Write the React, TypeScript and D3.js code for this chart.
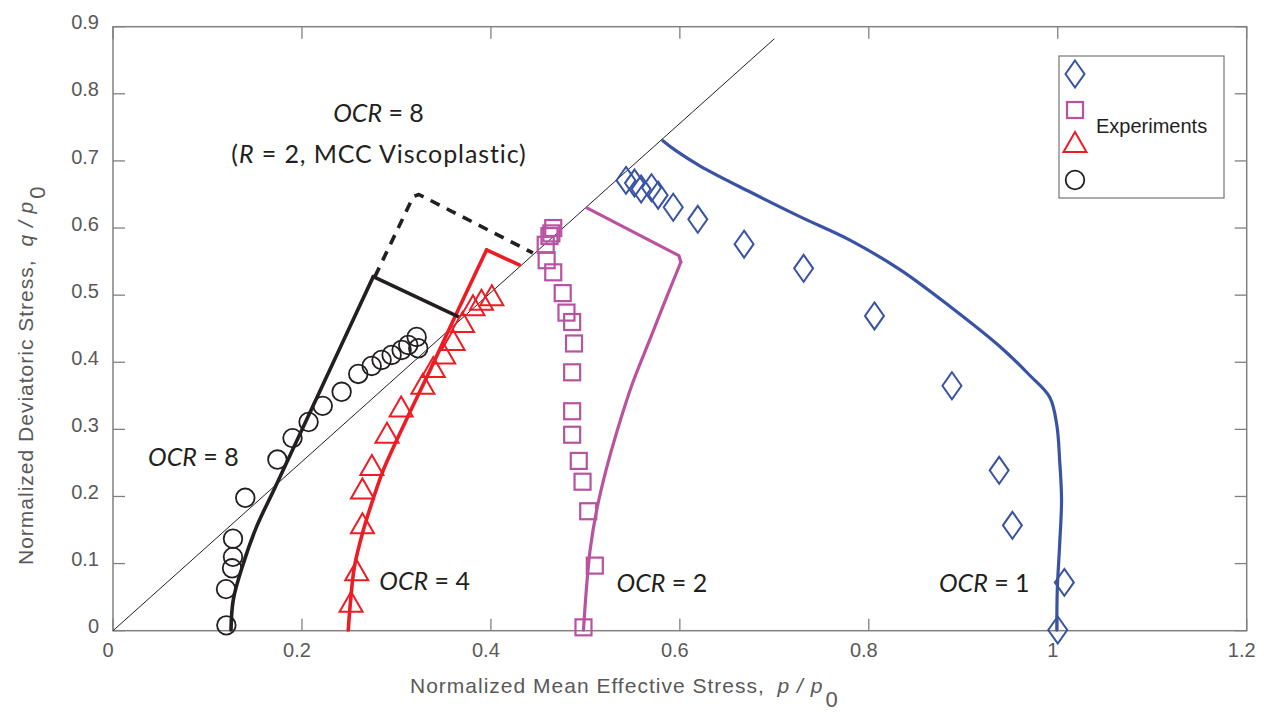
import React from "react";
import * as d3 from "d3";

// ---- Experimental data (p/p0, q/p0) ----
const ocr1Exp: [number, number][] = [
  [0.543, 0.671], [0.552, 0.667], [0.559, 0.658], [0.570, 0.660], [0.577, 0.649],
  [0.593, 0.631], [0.619, 0.613], [0.668, 0.576], [0.731, 0.540], [0.806, 0.469],
  [0.888, 0.365], [0.938, 0.239], [0.952, 0.157], [1.007, 0.072], [1.000, 0.001],
];
const ocr2Exp: [number, number][] = [
  [0.498, 0.005], [0.510, 0.097], [0.503, 0.178], [0.497, 0.222], [0.493, 0.253],
  [0.486, 0.292], [0.486, 0.327], [0.486, 0.385], [0.488, 0.428], [0.486, 0.460],
  [0.480, 0.474], [0.476, 0.503], [0.466, 0.534], [0.459, 0.552], [0.458, 0.575],
  [0.462, 0.588], [0.464, 0.592], [0.466, 0.600],
];
const ocr4Exp: [number, number][] = [
  [0.252, 0.043], [0.258, 0.090], [0.264, 0.160], [0.264, 0.212], [0.274, 0.247],
  [0.290, 0.295], [0.305, 0.334], [0.328, 0.368], [0.339, 0.393], [0.350, 0.413],
  [0.360, 0.433], [0.370, 0.460], [0.381, 0.485], [0.390, 0.493], [0.401, 0.500],
];
const ocr8Exp: [number, number][] = [
  [0.120, 0.008], [0.1196, 0.062], [0.126, 0.093], [0.127, 0.110], [0.127, 0.137],
  [0.140, 0.198], [0.174, 0.255], [0.190, 0.287], [0.207, 0.311], [0.222, 0.335],
  [0.242, 0.356], [0.2596, 0.3826], [0.2738, 0.3945], [0.2843, 0.4034], [0.2949, 0.4109],
  [0.3055, 0.4183], [0.3125, 0.4258], [0.3214, 0.4377], [0.3231, 0.4209],
];

// ---- Model stress paths ----
const ocr1Model: [number, number][] = [
  [0.582, 0.730], [0.595, 0.716], [0.622, 0.692], [0.674, 0.654], [0.727, 0.617],
  [0.780, 0.582], [0.833, 0.538], [0.886, 0.483], [0.939, 0.423], [0.970, 0.381],
  [0.9915, 0.348], [0.999, 0.3065], [1.002, 0.254], [1.004, 0.195], [1.002, 0.128],
  [0.9995, 0.061], [0.999, 0.001],
];
const ocr2Model: [number, number][] = [
  [0.498, 0.001], [0.501, 0.061], [0.505, 0.120], [0.512, 0.180], [0.522, 0.240],
  [0.533, 0.295], [0.550, 0.369], [0.568, 0.433], [0.586, 0.497], [0.601, 0.549],
];
const ocr2Leg: [number, number][] = [[0.601, 0.549], [0.599, 0.559], [0.5016, 0.630]];
const ocr4Model: [number, number][] = [
  [0.249, 0.001], [0.2515, 0.045], [0.2555, 0.095], [0.265, 0.150], [0.2755, 0.197],
  [0.286, 0.239], [0.310, 0.313], [0.3354, 0.3875], [0.365, 0.477], [0.3954, 0.5674],
];
const ocr4Leg: [number, number][] = [[0.3954, 0.5674], [0.430, 0.545]];
const ocr8Model: [number, number][] = [
  [0.1249, 0.001], [0.1273, 0.046], [0.1379, 0.100], [0.152, 0.155], [0.1719, 0.2146],
  [0.2235, 0.3706], [0.2755, 0.5276],
];
const ocr8Leg: [number, number][] = [[0.2755, 0.5276], [0.3654, 0.468]];
const ocr8Visco: [number, number][] = [
  [0.2772, 0.5276], [0.3178, 0.6468], [0.3238, 0.650], [0.4444, 0.5629],
];

// Critical state line q = M p
const cslSlope = 1.26;
const cslEnd = 0.70;

const xTicks = [0, 0.2, 0.4, 0.6, 0.8, 1, 1.2];
const yTicks = [0, 0.1, 0.2, 0.3, 0.4, 0.5, 0.6, 0.7, 0.8, 0.9];

const ocrLabels = [
  { text: "8", p: 0.0371, q: 0.246 },
  { text: "4", p: 0.2819, q: 0.060 },
  { text: "2", p: 0.5330, q: 0.057 },
  { text: "1", p: 0.8742, q: 0.057 },
];

const BLUE = "#3953a4";
const MAGENTA = "#b9529f";
const RED = "#ed1c24";
const BLACK = "#231f20";
const AXIS = "#808080";
const TICKTEXT = "#595959";

const W = 1267;
const H = 713;
const L = 113, R = 1246.7, T = 26.7, B = 630.7;

export default function App() {
  const x = d3.scaleLinear().domain([0, 1.2]).range([L, R]);
  const y = d3.scaleLinear().domain([0, 0.9]).range([B, T]);

  const smooth = d3.line<[number, number]>().x(d => x(d[0])).y(d => y(d[1])).curve(d3.curveCatmullRom.alpha(0.5));
  const straight = d3.line<[number, number]>().x(d => x(d[0])).y(d => y(d[1]));

  const diamond = "M0,-13.5L9.5,0L0,13.5L-9.5,0Z";
  const triangle = "M0,-10L11.5,10L-11.5,10Z";

  const diamondMark = (cx: number, cy: number, k: string) => (
    <path key={k} d={diamond} transform={`translate(${cx},${cy})`} fill="none" stroke={BLUE} strokeWidth={2} />
  );
  const squareMark = (cx: number, cy: number, k: string) => (
    <rect key={k} x={cx - 8} y={cy - 8} width={16} height={16} fill="none" stroke={MAGENTA} strokeWidth={2.2} />
  );
  const triMark = (cx: number, cy: number, k: string) => (
    <path key={k} d={triangle} transform={`translate(${cx},${cy})`} fill="none" stroke={RED} strokeWidth={2} />
  );
  const circMark = (cx: number, cy: number, k: string) => (
    <circle key={k} cx={cx} cy={cy} r={9.3} fill="none" stroke={BLACK} strokeWidth={1.8} />
  );

  const annFont = "Lato, 'Open Sans', sans-serif";
  const axFont = "Arial, 'Liberation Sans', sans-serif";

  return (
    <svg width={W} height={H} style={{ position: "absolute", left: 0, top: 0, background: "#fff" }}>
      {/* axes box */}
      <rect x={L} y={T} width={R - L} height={B - T} fill="none" stroke={AXIS} strokeWidth={1.5} />
      {xTicks.map(v => (
        <g key={"xt" + v}>
          <line x1={x(v)} x2={x(v)} y1={B} y2={B - 12} stroke={AXIS} strokeWidth={1.3} />
          <line x1={x(v)} x2={x(v)} y1={T} y2={T + 12} stroke={AXIS} strokeWidth={1.3} />
          <text x={x(v) - 5} y={656.7} textAnchor="middle" fontFamily={axFont} fontSize={20} fill={TICKTEXT}>
            {d3.format("~g")(v)}
          </text>
        </g>
      ))}
      {yTicks.map(v => (
        <g key={"yt" + v}>
          <line x1={L} x2={L + 12} y1={y(v)} y2={y(v)} stroke={AXIS} strokeWidth={1.3} />
          <line x1={R} x2={R - 12} y1={y(v)} y2={y(v)} stroke={AXIS} strokeWidth={1.3} />
          <text x={99} y={y(v) + 2.6} textAnchor="end" fontFamily={axFont} fontSize={20} fill={TICKTEXT}>
            {d3.format("~g")(v)}
          </text>
        </g>
      ))}

      {/* axis titles */}
      <text x={410} y={692.7} fontFamily={axFont} fontSize={21} letterSpacing={1} fill={TICKTEXT}>
        Normalized Mean Effective Stress,{" "}
        <tspan fontStyle="italic" dx={6}>p / p</tspan>
        <tspan dx={2} dy={14} fontSize={22}>0</tspan>
      </text>
      <text transform="translate(33,565) rotate(-90)" fontFamily={axFont} fontSize={21} letterSpacing={1} fill={TICKTEXT}>
        Normalized Deviatoric Stress,{" "}
        <tspan fontStyle="italic" dx={6}>q / p</tspan>
        <tspan dx={2} dy={12} fontSize={22}>0</tspan>
      </text>

      {/* critical state line */}
      <path d={straight([[0, 0], [cslEnd, cslSlope * cslEnd]]) || ""} fill="none" stroke={BLACK} strokeWidth={1} />

      {/* model paths */}
      <g fill="none" strokeLinecap="round" strokeLinejoin="round">
        <path d={smooth(ocr1Model) || ""} stroke={BLUE} strokeWidth={3.2} />
        <path d={smooth(ocr2Model) || ""} stroke={MAGENTA} strokeWidth={3.2} />
        <path d={straight(ocr2Leg) || ""} stroke={MAGENTA} strokeWidth={3.2} />
        <path d={smooth(ocr4Model) || ""} stroke={RED} strokeWidth={3.6} />
        <path d={straight(ocr4Leg) || ""} stroke={RED} strokeWidth={3.6} />
        <path d={smooth(ocr8Model) || ""} stroke={BLACK} strokeWidth={3.6} />
        <path d={straight(ocr8Leg) || ""} stroke={BLACK} strokeWidth={3.6} />
        <path d={straight(ocr8Visco) || ""} stroke={BLACK} strokeWidth={3.6} strokeDasharray="10 8" strokeLinecap="butt" />
      </g>

      {/* experiments */}
      {ocr8Exp.map((d, i) => circMark(x(d[0]), y(d[1]), "c" + i))}
      {ocr4Exp.map((d, i) => triMark(x(d[0]), y(d[1]), "t" + i))}
      {ocr2Exp.map((d, i) => squareMark(x(d[0]), y(d[1]), "s" + i))}
      {ocr1Exp.map((d, i) => diamondMark(x(d[0]), y(d[1]), "d" + i))}

      {/* OCR labels */}
      {ocrLabels.map(l => (
        <text key={"ocr" + l.text} x={x(l.p)} y={y(l.q)} fontFamily={annFont} fontSize={25} fill={BLACK}>
          <tspan fontStyle="italic">OCR</tspan> = {l.text}
        </text>
      ))}
      <text x={378.5} y={121.7} textAnchor="middle" fontFamily={annFont} fontSize={25} fill={BLACK}>
        <tspan fontStyle="italic">OCR</tspan> = 8
      </text>
      <text x={379} y={163.3} textAnchor="middle" fontFamily={annFont} fontSize={25} letterSpacing={0.9} fill={BLACK}>
        (<tspan fontStyle="italic">R</tspan> = 2, MCC Viscoplastic)
      </text>

      {/* legend */}
      <rect x={1059} y={56} width={165} height={142} fill="#fff" stroke={AXIS} strokeWidth={1.3} />
      {diamondMark(1075, 74, "ld")}
      {squareMark(1075, 110, "ls")}
      {triMark(1075, 142, "lt")}
      {circMark(1075, 180, "lc")}
      <text x={1096} y={133} fontFamily={axFont} fontSize={20} fill={BLACK}>Experiments</text>
    </svg>
  );
}
